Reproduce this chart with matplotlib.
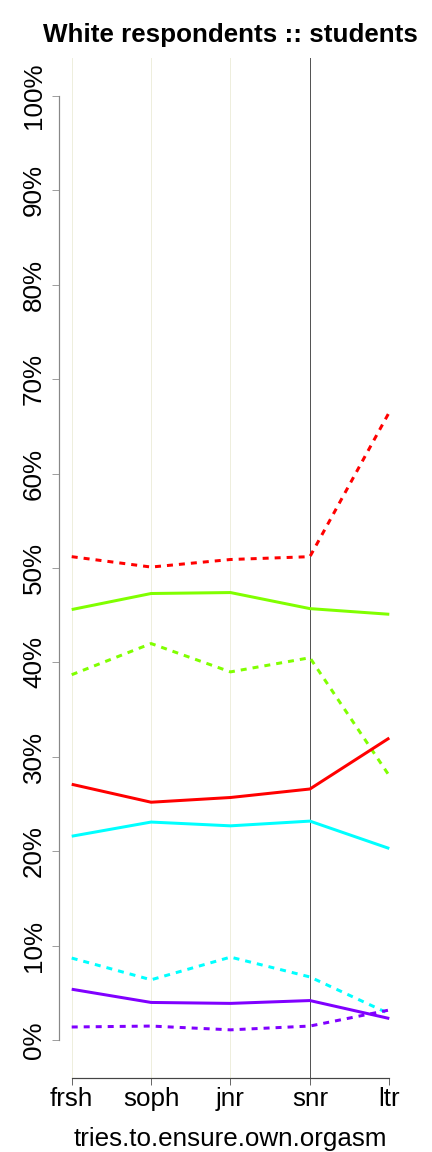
import matplotlib
matplotlib.use("Agg")
import matplotlib.pyplot as plt

categories = ["frsh", "soph", "jnr", "snr", "ltr"]
red_solid = [27.1, 25.2, 25.7, 26.6, 32.0]
red_dotted = [51.2, 50.1, 50.9, 51.2, 66.5]
green_solid = [45.6, 47.3, 47.4, 45.7, 45.1]
green_dotted = [38.7, 42.0, 39.0, 40.5, 28.0]
cyan_solid = [21.6, 23.1, 22.7, 23.2, 20.3]
cyan_dotted = [8.7, 6.4, 8.8, 6.7, 2.8]
purple_solid = [5.4, 4.0, 3.9, 4.2, 2.3]
purple_dotted = [1.4, 1.5, 1.1, 1.5, 3.2]
yticks = [0, 10, 20, 30, 40, 50, 60, 70, 80, 90, 100]

colors = {"red": "#FF0000", "green": "#80FF00", "cyan": "#00FFFF", "purple": "#8000FF"}

plt.rcParams['font.family'] = ['Liberation Sans', 'DejaVu Sans']

fig = plt.figure(figsize=(6, 16), dpi=72)
ax = fig.add_axes([59/432, 1 - 1078/1152, (402 - 59)/432, (1078 - 58)/1152])

x = list(range(len(categories)))
ax.set_xlim(-0.16, 4.16)
ax.set_ylim(-4, 104)

# vertical grid lines
for i in [0, 1, 2]:
    ax.axvline(i, color="#EEEEDD", lw=1, zorder=0)
ax.axvline(3, color="#555555", lw=1, zorder=0)

dot = (0, (2, 2))
series = [
    (red_dotted, "red", dot),
    (green_solid, "green", "-"),
    (green_dotted, "green", dot),
    (red_solid, "red", "-"),
    (cyan_solid, "cyan", "-"),
    (cyan_dotted, "cyan", dot),
    (purple_solid, "purple", "-"),
    (purple_dotted, "purple", dot),
]
for vals, c, ls in series:
    ax.plot(x, vals, color=colors[c], lw=3, linestyle=ls, solid_capstyle="butt", dash_capstyle="butt")

for s in ["top", "right"]:
    ax.spines[s].set_visible(False)
ax.spines["left"].set_bounds(0, 100)
ax.spines["left"].set_color("#888888")
ax.spines["bottom"].set_bounds(0, 4)
ax.spines["bottom"].set_color("#444444")
ax.spines["left"].set_linewidth(1.2)
ax.spines["bottom"].set_linewidth(1.2)

ax.set_yticks(yticks)
ax.set_yticklabels([f"{v}%" for v in yticks], rotation=90, va="center", fontsize=26)
ax.set_xticks(x)
ax.set_xticklabels(categories, fontsize=26)
ax.tick_params(axis="y", length=7, color="#888888", pad=6)
ax.tick_params(axis="x", length=7, color="#444444", pad=2)

ax.set_xlabel("tries.to.ensure.own.orgasm", fontsize=26, labelpad=16)
ax.set_title("White respondents :: students", fontsize=26, fontweight="bold", pad=16)

fig.savefig("out.png", dpi=72)
